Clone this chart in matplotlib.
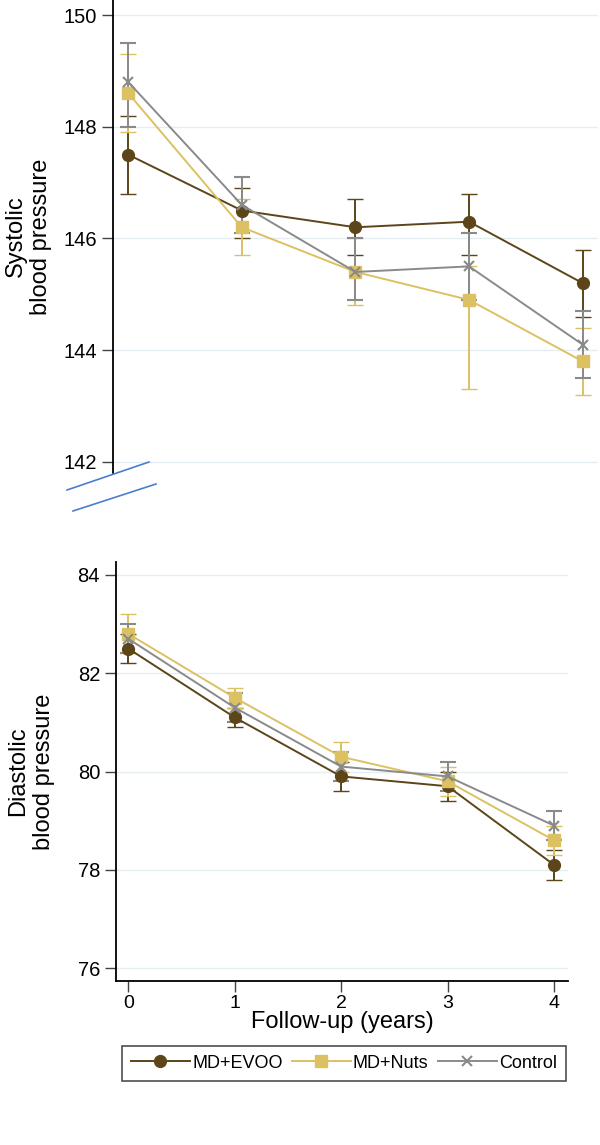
import numpy as np
import matplotlib.pyplot as plt
from matplotlib.lines import Line2D

plt.rcParams['font.family'] = ['Liberation Sans', 'DejaVu Sans']

years = [0, 1, 2, 3, 4]
groups = ['MD+EVOO', 'MD+Nuts', 'Control']
colors = ['#5b4519', '#dcc163', '#8a8a8a']
markers = ['o', 's', 'x']

# systolic: mean, upper, lower
sbp_evoo = [147.5, 146.5, 146.2, 146.3, 145.2]
sbp_evoo_hi = [148.2, 146.9, 146.7, 146.8, 145.8]
sbp_evoo_lo = [146.8, 146.0, 145.7, 145.7, 144.6]
sbp_nuts = [148.6, 146.2, 145.4, 144.9, 143.8]
sbp_nuts_hi = [149.3, 146.7, 146.0, 145.5, 144.4]
sbp_nuts_lo = [147.9, 145.7, 144.8, 143.3, 143.2]
sbp_ctrl = [148.8, 146.6, 145.4, 145.5, 144.1]
sbp_ctrl_hi = [149.5, 147.1, 146.0, 146.1, 144.7]
sbp_ctrl_lo = [148.0, 146.1, 144.9, 144.9, 143.5]

# diastolic: mean, upper, lower
dbp_evoo = [82.5, 81.1, 79.9, 79.7, 78.1]
dbp_evoo_hi = [82.8, 81.3, 80.2, 80.0, 78.4]
dbp_evoo_lo = [82.2, 80.9, 79.6, 79.4, 77.8]
dbp_nuts = [82.8, 81.5, 80.3, 79.8, 78.6]
dbp_nuts_hi = [83.2, 81.7, 80.6, 80.1, 78.9]
dbp_nuts_lo = [82.4, 81.3, 80.0, 79.5, 78.3]
dbp_ctrl = [82.7, 81.3, 80.1, 79.9, 78.9]
dbp_ctrl_hi = [83.0, 81.6, 80.4, 80.2, 79.2]
dbp_ctrl_lo = [82.4, 81.0, 79.8, 79.6, 78.6]

sbp = [(sbp_evoo, sbp_evoo_hi, sbp_evoo_lo), (sbp_nuts, sbp_nuts_hi, sbp_nuts_lo),
       (sbp_ctrl, sbp_ctrl_hi, sbp_ctrl_lo)]
dbp = [(dbp_evoo, dbp_evoo_hi, dbp_evoo_lo), (dbp_nuts, dbp_nuts_hi, dbp_nuts_lo),
       (dbp_ctrl, dbp_ctrl_hi, dbp_ctrl_lo)]

fig = plt.figure(figsize=(6, 11.45), dpi=100)
ax1 = fig.add_axes([0.1883, 0.5869, 0.8083, 0.4131])
ax2 = fig.add_axes([0.1933, 0.1432, 0.7533, 0.3660])


def draw(ax, data):
    for (m, hi, lo), c, mk in zip(data, colors, markers):
        m = np.array(m); hi = np.array(hi); lo = np.array(lo)
        ms = 8.5 if mk != 'x' else 7
        ax.errorbar(years, m, yerr=[m - lo, hi - m], color=c, ecolor=c,
                    marker=mk, ms=ms, mew=1.5 if mk == 'x' else 1, lw=1.4,
                    elinewidth=1.4, capsize=6, capthick=1.4)
    ax.grid(axis='y', color='#e4edf1', lw=1)
    ax.set_axisbelow(True)
    for s in ['top', 'right']:
        ax.spines[s].set_visible(False)
    ax.spines['left'].set_linewidth(1.3)
    ax.tick_params(axis='y', length=8, width=1, labelsize=14.5, color='#444444')


draw(ax1, sbp)
ax1.set_ylim(141.8, 150.27)
ax1.set_xlim(-0.135, 4.135)
ax1.set_yticks([142, 144, 146, 148, 150])
ax1.spines['bottom'].set_visible(False)
ax1.set_xticks([])
ax1.set_ylabel('Systolic\nblood pressure', fontsize=17, ha='center', va='center',
               multialignment='center', linespacing=1.2)
ax1.yaxis.set_label_coords(-0.175, 0.5)

draw(ax2, dbp)
ax2.set_ylim(75.74, 84.26)
ax2.set_xlim(-0.115, 4.13)
ax2.set_yticks([76, 78, 80, 82, 84])
ax2.set_xticks(years)
ax2.spines['bottom'].set_linewidth(1.3)
ax2.tick_params(axis='x', length=8, width=1, labelsize=14, color='#444444', pad=2)
ax2.set_ylabel('Diastolic\nblood pressure', fontsize=17, ha='center', va='center',
               multialignment='center', linespacing=1.2)
ax2.yaxis.set_label_coords(-0.188, 0.5)
ax2.set_xlabel('Follow-up (years)', fontsize=17, labelpad=-1)

# axis break marks
for (x0, y0, x1, y1) in [(67, 490, 149, 462), (73, 511, 156, 484)]:
    fig.add_artist(Line2D([x0 / 600, x1 / 600], [1 - y0 / 1145, 1 - y1 / 1145],
                          transform=fig.transFigure, color='#4a7fcc', lw=1.2))

handles = [Line2D([], [], color=c, marker=mk, ms=8.5 if mk != 'x' else 7,
                  mew=1.5 if mk == 'x' else 1, lw=1.4)
           for c, mk in zip(colors, markers)]
leg = fig.legend(handles, groups, loc='center', bbox_to_anchor=(0.573, 0.0715),
                 ncol=3, fontsize=13, handlelength=3.3, handletextpad=0.1,
                 columnspacing=0.5, frameon=True, fancybox=False, borderpad=0.5)
leg.get_frame().set_edgecolor('#222222')
leg.get_frame().set_linewidth(1.2)

fig.savefig('out.png', dpi=100)
